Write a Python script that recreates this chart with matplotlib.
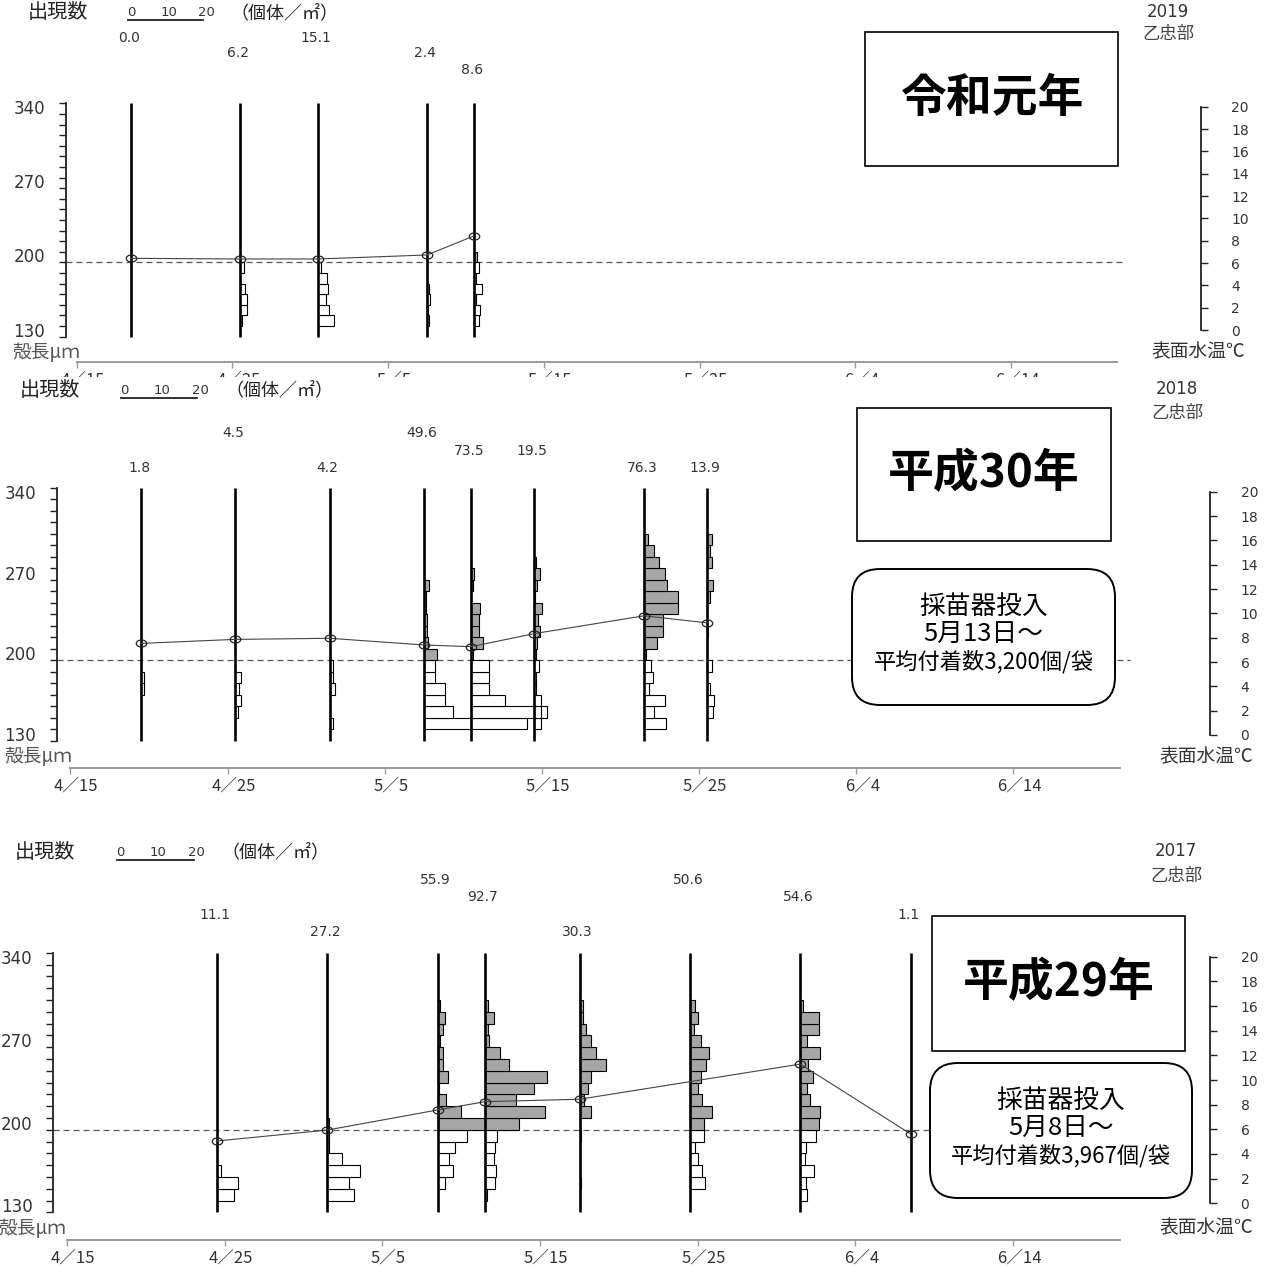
#!/usr/bin/python

# Shell length frequency of scallop larvae (bars, one histogram per sampling
# day) and surface water temperature (line), 乙忠部, 2019 / 2018 / 2017.

import numpy as np
import matplotlib
matplotlib.use('Agg')
import matplotlib.pyplot as plt
import matplotlib.transforms as mtransforms
from matplotlib.patches import Rectangle, FancyBboxPatch
from matplotlib.path import Path

plt.rcParams['font.family'] = ['Noto Sans CJK JP', 'DejaVu Sans']

#==============================================================================
# values

# shell length classes, lower edge (um)
LEN_BINS = [130, 140, 150, 160, 170, 180, 190, 200, 210, 220,
            230, 240, 250, 260, 270, 280, 290, 300, 310, 320]
LEN_TICKS = [130, 200, 270, 340]
TEMP_TICKS = [0, 2, 4, 6, 8, 10, 12, 14, 16, 18, 20]
TICK_DATES = ["4/15", "4/25", "5/5", "5/15", "5/25", "6/4", "6/14"]
TICK_LABELS = ["4／15", "4／25", "5／5", "5／15", "5／25", "6／4", "6／14"]

# --- 2019 ---
DATES_2019 = ["4/18", "4/25", "4/30", "5/7", "5/10"]
COUNT_2019 = [0.0, 6.2, 15.1, 2.4, 8.6]
TEMP_2019 = [6.42, 6.36, 6.36, 6.72, 8.42]
HIST_2019 = [
    [0, 0, 0, 0, 0, 0, 0, 0, 0, 0, 0, 0, 0, 0, 0, 0, 0, 0, 0, 0],
    [0, 0.5, 1.7, 1.7, 1.3, 0, 1.0, 0, 0, 0, 0, 0, 0, 0, 0, 0, 0, 0, 0, 0],
    [0, 4.2, 3.0, 2.0, 2.7, 2.4, 0.8, 0, 0, 0, 0, 0, 0, 0, 0, 0, 0, 0, 0, 0],
    [0, 0.6, 0.3, 0.9, 0.6, 0, 0, 0, 0, 0, 0, 0, 0, 0, 0, 0, 0, 0, 0, 0],
    [0, 1.4, 1.8, 0.5, 2.1, 0.5, 1.3, 1.0, 0, 0, 0, 0, 0, 0, 0, 0, 0, 0, 0, 0],
]

# --- 2018 ---
DATES_2018 = ["4/19", "4/25", "5/1", "5/7", "5/10", "5/14", "5/21", "5/25"]
COUNT_2018 = [1.8, 4.5, 4.2, 49.6, 73.5, 19.5, 76.3, 13.9]
TEMP_2018 = [7.53, 7.86, 7.95, 7.40, 7.26, 8.33, 9.80, 9.22]
HIST_2018 = [
    [0, 0, 0, 0, 0.9, 0.9, 0, 0, 0, 0, 0, 0, 0, 0, 0, 0, 0, 0, 0, 0],
    [0, 0, 0.6, 1.4, 1.0, 1.4, 0, 0, 0, 0, 0, 0, 0, 0, 0, 0, 0, 0, 0, 0],
    [0, 0.9, 0, 0, 1.5, 1.0, 0.8, 0, 0, 0, 0, 0, 0, 0, 0, 0, 0, 0, 0, 0],
    [0, 27.2, 7.5, 5.4, 5.4, 2.9, 2.9, 3.4, 1.1, 0.7, 0.7, 0.6, 0.4, 1.3, 0, 0, 0, 0, 0, 0],
    [0, 0, 19.9, 8.9, 4.6, 4.6, 4.8, 0.6, 3.1, 2.1, 2.1, 2.4, 0, 0.6, 0.8, 0, 0, 0, 0, 0],
    [0, 1.9, 1.8, 1.8, 0.4, 0.6, 1.2, 0.6, 0.8, 1.5, 1.1, 2.2, 0.3, 0.8, 1.6, 0.6, 0, 0, 0, 0],
    [0, 5.7, 2.6, 5.4, 1.2, 2.3, 1.8, 0.5, 3.5, 4.9, 4.9, 8.9, 9.0, 6.0, 5.5, 4.0, 2.7, 1.0, 0, 0],
    [0, 0, 1.5, 1.9, 0.8, 0, 1.2, 0, 0, 0.4, 0, 0, 0.8, 1.6, 0, 1.2, 0.8, 1.2, 0, 0],
]

# --- 2017 ---  (no temperature on 5/24)
DATES_2017 = ["4/24", "5/1", "5/8", "5/11", "5/17", "5/24", "5/31", "6/7"]
COUNT_2017 = [11.1, 27.2, 55.9, 92.7, 30.3, 50.6, 54.6, 1.1]
TEMP_2017 = [5.05, 5.94, 7.57, 8.24, 8.44, None, 11.29, 5.62]
HIST_2017 = [
    [0, 4.5, 5.5, 1.1, 0, 0, 0, 0, 0, 0, 0, 0, 0, 0, 0, 0, 0, 0, 0, 0],
    [0, 7.1, 5.8, 8.6, 3.9, 0.4, 0.4, 0.5, 0, 0, 0, 0, 0, 0, 0, 0, 0, 0, 0, 0],
    [0, 0, 2.0, 3.9, 3.0, 4.6, 7.6, 12.4, 6.1, 2.2, 0.4, 2.6, 1.5, 1.5, 0.6, 1.3, 2.0, 0.6, 0, 0],
    [0, 0.5, 2.6, 2.9, 2.3, 2.6, 3.1, 8.8, 15.7, 8.1, 12.9, 16.2, 6.3, 4.0, 1.1, 0.9, 2.3, 0.7, 0, 0],
    [0, 0, 0.4, 0, 0, 0, 0.4, 0, 2.9, 1.1, 2.2, 2.9, 7.0, 4.4, 3.1, 1.8, 0.9, 0.9, 0, 0],
    [0, 0, 3.9, 3.2, 2.2, 1.2, 3.7, 3.7, 5.7, 3.2, 2.2, 2.8, 4.3, 5.0, 2.8, 1.0, 2.2, 1.2, 0, 0],
    [0, 1.7, 1.5, 3.5, 1.1, 1.6, 4.2, 5.0, 5.2, 2.4, 1.7, 3.2, 1.9, 5.2, 1.7, 5.0, 5.0, 0.6, 0, 0],
    [0, 0, 0, 0, 0, 0, 0, 0, 0, 0, 0, 0, 0, 0, 0, 0, 0, 0, 0, 0],
]
#==============================================================================

W, H = 1271, 1267
DPI = 100

# layout of each panel, in pixels of the output image
LAYOUT = {
    2019: dict(band=(0, 377), x0=76.7, ppd=15.57, left=66.0, top=103.3, base=336.7,
               right=1200.7, t20=106.7, t0=330.0, axis_y=361.7, dash_end=1123,
               scale=(128, 75, 20), rows=[38, 53, 70], row_of=[0, 1, 0, 1, 2]),
    2018: dict(band=(377, 828), x0=70.3, ppd=15.72, left=57.0, top=487.7, base=740.7,
               right=1210.0, t20=491.7, t0=735.0, axis_y=767.7, dash_end=1130,
               scale=(121, 76, 398), rows=[433, 451, 468],
               row_of=[2, 0, 2, 0, 1, 1, 2, 2]),
    2017: dict(band=(828, 1267), x0=67.0, ppd=15.77, left=53.3, top=952.7, base=1212.3,
               right=1210.0, t20=956.7, t0=1203.3, axis_y=1240.0, dash_end=1125,
               scale=(117, 76.7, 860), rows=[880, 897, 915, 932],
               row_of=[2, 3, 0, 1, 3, 0, 1, 2]),
}

MONTH_START = {4: -15, 5: 15, 6: 46}   # days from 4/15 to day 0 of month

def day_of(s):
    m, d = s.split('/')
    return MONTH_START[int(m)] + int(d)

ELLIPSE = Path.unit_circle().transformed(mtransforms.Affine2D().scale(1.0, 0.68))

fig = plt.figure(figsize=(W / DPI, H / DPI), dpi=DPI)
fig.patch.set_facecolor('white')

def ft(x, y, s, **kw):
    kw.setdefault('ha', 'center')
    kw.setdefault('va', 'center')
    return fig.text(x / W, 1 - y / H, s, **kw)

def draw_panel(dates, counts, temps, hist, L):
    top, bot = L['band']
    ax = fig.add_axes([0, 1 - bot / H, 1, (bot - top) / H])
    ax.set_facecolor('white')
    ax2 = ax.twinx()

    um_pp = 220.0 / (L['base'] - L['top'])
    deg_pp = 20.0 / (L['t0'] - L['t20'])
    day = lambda px: (px - L['x0']) / L['ppd']
    um = lambda py: 130 + (L['base'] - py) * um_pp

    ax.set_xlim(day(0), day(W))
    ax.set_ylim(um(bot), um(top))
    ax2.set_ylim((L['t0'] - bot) * deg_pp, (L['t0'] - top) * deg_pp)

    xs = [day_of(d) + 0.5 for d in dates]
    k = L['scale'][1] / L['ppd'] / 20.0     # days per (individuals/m2)

    # histograms
    bins = np.array(LEN_BINS)
    for x, h in zip(xs, hist):
        h = np.array(h, dtype=float)
        keep = h > 0
        if not keep.any():
            continue
        cols = ['#a6a6a6' if b >= 200 else 'white' for b in bins[keep]]
        ax.barh(bins[keep], h[keep] * k, height=10, left=x, align='edge',
                color=cols, edgecolor='black', linewidth=0.8, zorder=2)
    ax.vlines(xs, 130, 350, color='black', lw=1.9, zorder=3)
    ax.hlines(200, day(L['left']), day(L['dash_end']), colors='#555555',
              lw=0.9, linestyles=(0, (4.8, 3.2)), zorder=1)

    # counts above each sampling line
    for x, n, r in zip(xs, counts, L['row_of']):
        ax.text(x - 2 / L['ppd'], um(L['rows'][r]), f'{n:.1f}', ha='center',
                va='center', fontsize=10, family='DejaVu Sans', color='#333333')

    # scale bar 0-10-20
    sx, slen, sy = L['scale']
    s0 = day(sx)
    ax.plot([s0, s0 + 20 * k], [um(sy), um(sy)], color='#222222', lw=1.3,
            clip_on=False)
    for v in (0, 10, 20):
        ax.text(s0 + v * k + 3 / L['ppd'], um(sy - 8), str(v), ha='center',
                va='center', fontsize=9.5, family='DejaVu Sans', color='#333333')

    # water temperature
    tx = [x for x, t in zip(xs, temps) if t is not None]
    ty = [t for t in temps if t is not None]
    ax2.plot(tx, ty, color='#444444', lw=0.8, marker=ELLIPSE, ms=7.5,
             mfc='none', mec='#222222', mew=0.9, zorder=4)

    # axes
    for s in ('top', 'right'):
        ax.spines[s].set_visible(False)
    for s in ('top', 'left', 'bottom'):
        ax2.spines[s].set_visible(False)
    ax.spines['left'].set_position(('data', day(L['left'])))
    ax.spines['left'].set_bounds(130, 350)
    ax.spines['left'].set_linewidth(1.3)
    ax.spines['left'].set_color('#222222')
    ax.spines['bottom'].set_position(('data', um(L['axis_y'])))
    ax.spines['bottom'].set_bounds(0, 66.8)
    ax.spines['bottom'].set_linewidth(1.4)
    ax.spines['bottom'].set_color('#9a9a9a')
    ax2.spines['right'].set_position(('data', day(L['right'])))
    ax2.spines['right'].set_bounds(0, 20)
    ax2.spines['right'].set_linewidth(1.3)
    ax2.spines['right'].set_color('#222222')

    ax.tick_params(axis='y', which='both', direction='out', length=5, width=1,
                   color='#222222', pad=10)
    ax.tick_params(axis='x', direction='out', length=4, width=1,
                   color='#9a9a9a', pad=3)
    ax2.tick_params(axis='y', direction='out', length=5, width=1,
                    color='#222222', pad=17)

    ax.set_yticks(LEN_TICKS, labels=[str(v) for v in LEN_TICKS], va='baseline',
                  fontsize=12, family='DejaVu Sans', color='#333333')
    ax.set_yticks(np.arange(130, 351, 10), minor=True)
    ax.set_xticks([day_of(d) for d in TICK_DATES], labels=TICK_LABELS,
                  fontsize=12, color='#333333')
    ax2.set_yticks(TEMP_TICKS, labels=[str(v) for v in TEMP_TICKS],
                   fontsize=10, family='DejaVu Sans', color='#333333')

    off = mtransforms.ScaledTranslation(6 / DPI, 0, fig.dpi_scale_trans)
    for t in ax.xaxis.get_major_ticks():
        t.label1.set_transform(t.label1.get_transform() + off)
    return ax


def header(y, x_label, x_unit, year, x_year, y_year, y_place):
    ft(x_label, y, '出現数', fontsize=14.5, color='#222222')
    ft(x_unit, y, '（個体／㎡）', fontsize=13, color='#222222')
    ft(x_year, y_year, year, fontsize=12, family='DejaVu Sans', color='#333333')
    ft(x_year, y_place, '乙忠部', fontsize=12.5, color='#444444')


def title_box(x0, y0, x1, y1, s):
    fig.add_artist(Rectangle((x0 / W, 1 - y1 / H), (x1 - x0) / W, (y1 - y0) / H,
                             transform=fig.transFigure, fc='white', ec='black',
                             lw=1.2))
    ft((x0 + x1) / 2, (y0 + y1) / 2, s, fontsize=33, weight='bold', color='black')


def note_box(x0, y0, x1, y1, lines):
    fig.add_artist(FancyBboxPatch((x0 / W, 1 - y1 / H), (x1 - x0) / W, (y1 - y0) / H,
                                  boxstyle='round,pad=0,rounding_size=0.022',
                                  transform=fig.transFigure, fc='white',
                                  ec='black', lw=1.4))
    cx = (x0 + x1) / 2
    ft(cx, y0 + 38, lines[0], fontsize=18.5, color='black')
    ft(cx, y0 + 65, lines[1], fontsize=18.5, color='black')
    ft(cx, y0 + 93, lines[2], fontsize=16, color='black')


# ---- 2019 ----
draw_panel(DATES_2019, COUNT_2019, TEMP_2019, HIST_2019, LAYOUT[2019])
header(13, 58, 284, '2019', 1168, 12, 34)
ft(12, 352, '殻長μｍ', ha='left', fontsize=13.5, color='#555555')
ft(1198, 352, '表面水温℃', fontsize=13.5, color='#333333')
title_box(865, 32, 1118, 166, '令和元年')

# ---- 2018 ----
draw_panel(DATES_2018, COUNT_2018, TEMP_2018, HIST_2018, LAYOUT[2018])
header(390, 50, 279, '2018', 1177, 389, 413)
ft(4, 757, '殻長μｍ', ha='left', fontsize=13.5, color='#555555')
ft(1206, 757, '表面水温℃', fontsize=13.5, color='#333333')
title_box(857, 408, 1111, 541, '平成30年')
note_box(852, 569, 1115, 705, ['採苗器投入', '5月13日～', '平均付着数3,200個/袋'])

# ---- 2017 ----
draw_panel(DATES_2017, COUNT_2017, TEMP_2017, HIST_2017, LAYOUT[2017])
header(852, 45, 275, '2017', 1176, 851, 876)
ft(-2, 1228, '殻長μｍ', ha='left', fontsize=13.5, color='#555555')
ft(1206, 1228, '表面水温℃', fontsize=13.5, color='#333333')
title_box(932, 916, 1185, 1051, '平成29年')
note_box(930, 1063, 1192, 1198, ['採苗器投入', '5月8日～', '平均付着数3,967個/袋'])

plt.savefig('out.png', dpi=DPI)
